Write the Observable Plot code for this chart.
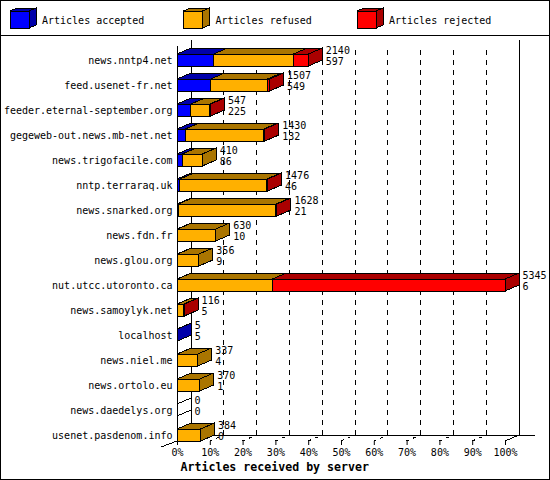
<!DOCTYPE html>
<html><head><meta charset="utf-8">
<script src="https://cdn.jsdelivr.net/npm/d3@7"></script>
<script src="https://cdn.jsdelivr.net/npm/@observablehq/plot@0.6"></script>
<style>
html,body{margin:0;padding:0;background:#fff;}
#frame{width:550px;height:480px;box-sizing:border-box;border:1px solid #000;overflow:hidden;position:relative;font-family:"DejaVu Sans Mono",monospace;background:#fff;}
#legend{height:34px;border-bottom:1px solid #000;}
#legend svg,#chart svg{display:block;}
</style></head><body>
<div id="frame"><div id="legend"></div><div id="chart"></div></div>
<script>
// ---- data ----
const servers = ["news.nntp4.net","feed.usenet-fr.net","feeder.eternal-september.org","gegeweb-out.news.mb-net.net","news.trigofacile.com","nntp.terraraq.uk","news.snarked.org","news.fdn.fr","news.glou.org","nut.utcc.utoronto.ca","news.samoylyk.net","localhost","news.niel.me","news.ortolo.eu","news.daedelys.org","usenet.pasdenom.info"];
const totals   = [2140,1507,547,1430,410,1476,1628,630,356,5345,116,5,337,370,0,384];
const accepted = [597,549,225,132,86,46,21,10,9,6,5,5,4,1,0,0];
const rejected = [244,33,15,15,0,10,15,0,0,3791,6,0,0,0,0,0];
const refused  = [1299,925,307,1283,324,1420,1592,620,347,1548,105,0,333,369,0,384];
const seriesNames = ["Articles accepted","Articles refused","Articles rejected"];
const seriesColors = ["#0000ff","#ffb000","#ff0000"];
const seriesShade  = ["#0000aa","#aa7500","#aa0000"];
const xTicks = [0,10,20,30,40,50,60,70,80,90,100];
const xTitle = "Articles received by server";

const FONT = "DejaVu Sans Mono";
const DX = 14, DY = 6;
const maxTotal = d3.max(totals);
const pct = v => v / maxTotal * 100;

// ---- legend ----
const lg = d3.select("#legend").append("svg").attr("width", 548).attr("height", 34);
seriesNames.forEach((name, k) => {
  const x0 = 9 + k * 173.5, y0 = 10, w = 19, h = 17, ldx = 7, ldy = 3;
  const g = lg.append("g").attr("stroke", "#000").attr("shape-rendering", "crispEdges");
  g.append("polygon").attr("points", [[x0,y0],[x0+w,y0],[x0+w+ldx,y0-ldy],[x0+ldx,y0-ldy]].join(" ")).attr("fill", seriesShade[k]);
  g.append("polygon").attr("points", [[x0+w,y0],[x0+w+ldx,y0-ldy],[x0+w+ldx,y0+h-ldy],[x0+w,y0+h]].join(" ")).attr("fill", seriesShade[k]);
  g.append("rect").attr("x", x0).attr("y", y0).attr("width", w).attr("height", h).attr("fill", seriesColors[k]);
  lg.append("text").attr("x", x0 + 32).attr("y", 19).attr("dy", "0.35em")
    .attr("font-family", FONT).attr("font-size", 10).text(name);
});

// ---- segments for front faces ----
const segments = [];
servers.forEach((s, i) => {
  let cum = 0;
  [accepted[i], refused[i], rejected[i]].forEach((v, k) => {
    if (v > 0) segments.push({server: s, series: seriesNames[k], x1: pct(cum), x2: pct(cum + v)});
    cum += v;
  });
});
const labels = servers.map((s, i) => ({server: s, x: pct(totals[i]), total: totals[i], acc: accepted[i]}));

// ---- walls, grid, floor ----
function walls(index, scales, values, dims) {
  const {x} = scales;
  const ff = dims.height - dims.marginBottom;   // front floor
  const fb = ff - DY;                            // back floor
  const top = dims.marginTop - 14;
  const g = d3.create("svg:g").attr("stroke", "#000").attr("fill", "none").attr("shape-rendering", "crispEdges");
  xTicks.slice(1, -1).forEach(p => {
    g.append("line").attr("x1", x(p) + DX).attr("x2", x(p) + DX).attr("y1", fb).attr("y2", top + 8).attr("stroke-dasharray", "5,5");
    g.append("line").attr("x1", x(p)).attr("y1", ff).attr("x2", x(p) + DX).attr("y2", fb).attr("stroke-dasharray", "3,4");
  });
  const x0 = x(xTicks[0]), x1 = x(xTicks[xTicks.length - 1]);
  g.append("line").attr("x1", x0 + DX).attr("x2", x0 + DX).attr("y1", top).attr("y2", fb);
  g.append("line").attr("x1", x1 + DX).attr("x2", x1 + DX).attr("y1", top).attr("y2", fb);
  g.append("line").attr("x1", x0).attr("x2", x0).attr("y1", top + DY).attr("y2", ff);
  g.append("line").attr("x1", x0 + DX).attr("x2", x1 + DX + 16).attr("y1", fb).attr("y2", fb);
  g.append("line").attr("x1", x1).attr("y1", ff).attr("x2", x1 + DX).attr("y2", fb);
  g.append("line").attr("x1", x0 - 16).attr("y1", ff + DY).attr("x2", x0).attr("y2", ff);
  return g.node();
}

// ---- 3D top and side faces ----
function depthFaces(index, scales) {
  const {x, y} = scales;
  const bw = y.bandwidth();
  const g = d3.create("svg:g").attr("stroke", "#000").attr("shape-rendering", "crispEdges");
  servers.forEach((s, i) => {
    const yt = y(s), yb = yt + bw;
    let cum = 0, last = -1;
    [accepted[i], refused[i], rejected[i]].forEach((v, k) => {
      if (v > 0) {
        const a = x(pct(cum)), b = x(pct(cum + v));
        g.append("polygon").attr("points", [[a,yt],[b,yt],[b+DX,yt-DY],[a+DX,yt-DY]].join(" ")).attr("fill", seriesShade[k]);
        last = k;
      }
      cum += v;
    });
    const e = x(pct(cum));
    g.append("polygon").attr("points", [[e,yt],[e+DX,yt-DY],[e+DX,yb-DY],[e,yb]].join(" "))
      .attr("fill", last >= 0 ? seriesShade[last] : "#fff");
  });
  return g.node();
}

const chart = Plot.plot({
  width: 548,
  height: 443,
  marginLeft: 176,
  marginRight: 44,
  marginTop: 18,
  marginBottom: 38,
  style: {fontFamily: FONT, fontSize: "10px", color: "#000", background: "#fff", overflow: "visible"},
  x: {domain: [0, 100], ticks: xTicks, tickFormat: d => d + "%", tickSize: 4, tickPadding: 3, label: null},
  y: {domain: servers, paddingInner: 0.52, paddingOuter: 0, round: false, tickSize: 0, tickPadding: 5, label: null},
  color: {domain: seriesNames, range: seriesColors},
  marks: [
    walls,
    Plot.barX(segments, {x1: "x1", x2: "x2", y: "server", fill: "series", stroke: "#000", strokeWidth: 1, shapeRendering: "crispEdges"}),
    depthFaces,
    Plot.text(labels, {x: "x", y: "server", text: d => String(d.total), dx: 17, dy: -10, textAnchor: "start", lineAnchor: "middle", fill: "#000"}),
    Plot.text(labels, {x: "x", y: "server", text: d => String(d.acc), dx: 17, dy: 1, textAnchor: "start", lineAnchor: "middle", fill: "#000"}),
    Plot.text([xTitle], {frameAnchor: "bottom-left", text: d => d, dx: 3, dy: 26, textAnchor: "start", lineAnchor: "middle", fontWeight: "bold", fontSize: 11.6, fill: "#000"})
  ]
});
document.getElementById("chart").appendChild(chart);
</script>
</body></html>
